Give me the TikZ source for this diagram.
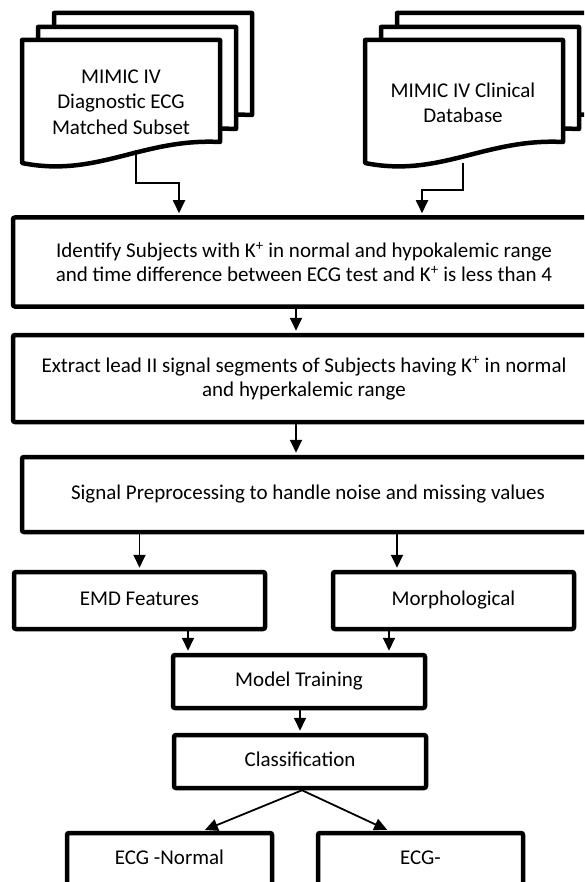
\documentclass[tikz,border=0pt]{standalone}
\usepackage{fontspec}
\setmainfont{Carlito}
\usetikzlibrary{arrows.meta}

\newcommand{\kp}{K\textsuperscript{+}}
% one document page, top left corner at (#1,#2)
\newcommand{\docpage}[2]{%
  \draw[docline] (#1,#2) -- ++(198,0) -- ++(0,102)
    .. controls (#1+120,#2+98) and (#1+75,#2+138) .. (#1,#2+123) -- cycle;}
% stack of three pages
\newcommand{\docstack}[2]{%
  \docpage{#1+32}{#2-27}
  \docpage{#1+16}{#2-13}
  \docpage{#1}{#2}}

\begin{document}
\begin{tikzpicture}[x=1pt,y=-1pt,
  font=\fontsize{21}{24}\selectfont,
  box/.style={draw,line width=4.5pt,rounded corners=2pt,fill=white,inner sep=0pt,align=center},
  oneline/.style={box,text height=15pt,text depth=5pt},
  doctext/.style={align=center,font=\fontsize{21}{25.5}\selectfont},
  docline/.style={line width=4.5pt,fill=white,line join=round},
  arr/.style={line width=1.8pt,shorten >=2pt,-{Triangle[length=13pt,width=12pt]}}]
\useasboundingbox (0,0) rectangle (584,882);
\clip (0,0) rectangle (584,882);

% Data sources
\docstack{22}{40}
\node[doctext] (ecgdb) at (121,102) {MIMIC IV\\Diagnostic ECG\\Matched Subset};
\docstack{365}{40}
\node[doctext] (clindb) at (463,103) {MIMIC IV Clinical\\Database};
\coordinate (ecgout) at (136,150);
\coordinate (clinout) at (463,163);

% Selection and preprocessing
\node[box,minimum width=582pt,minimum height=89pt] (ident) at (304,262)
  {Identify Subjects with \kp{} in normal and hypokalemic range\\and time difference between ECG test and \kp{} is less than 4};
\node[box,minimum width=582pt,minimum height=87pt] (extract) at (304,378.5)
  {Extract lead II signal segments of Subjects having \kp{} in normal\\and hyperkalemic range};
\node[oneline,minimum width=572pt,minimum height=75pt] (prep) at (308,494.5)
  {Signal Preprocessing to handle noise and missing values};

% Features
\node[oneline,minimum width=251pt,minimum height=57pt] (emd) at (139.5,600.5) {EMD Features};
\node[oneline,minimum width=241pt,minimum height=57pt] (morph) at (453.5,600.5) {Morphological};

% Model and output
\node[oneline,minimum width=252pt,minimum height=53pt] (train) at (299,681.5) {Model Training};
\node[oneline,minimum width=252pt,minimum height=53pt] (class) at (300,761.5) {Classification};
\node[oneline,minimum width=205pt,minimum height=53pt] (normal) at (169.5,859.5) {ECG -Normal};
\node[oneline,minimum width=205pt,minimum height=53pt] (hyper) at (420.5,859.5) {ECG-};

% Connectors
\coordinate (ecgbend) at (179,183);
\coordinate (clinbend) at (422,190);
\draw[arr] (ecgout) |- (ecgbend) -- (ecgbend |- ident.north);
\draw[arr] (clinout) |- (clinbend) -- (clinbend |- ident.north);
\draw[arr] ([xshift=-8pt]ident.south) -- ([xshift=-8pt]extract.north);
\coordinate (extout) at ([xshift=-8pt]extract.south);
\draw[arr] (extout) -- (extout |- prep.north);
\draw[arr] (emd.north |- prep.south) -- (emd.north);
\coordinate (morphin) at ([xshift=-56.5pt]morph.north);
\draw[arr] (morphin |- prep.south) -- (morphin);
\coordinate (emdout) at ([xshift=48.5pt]emd.south);
\draw[arr] (emdout) -- (emdout |- train.north);
\coordinate (morphout) at ([xshift=-64.5pt]morph.south);
\draw[arr] (morphout) -- (morphout |- train.north);
\draw[arr] (class.north |- train.south) -- (class.north);
\draw[arr] ([xshift=2pt]class.south) -- ([xshift=33.5pt]normal.north);
\draw[arr] ([xshift=2pt]class.south) -- ([xshift=-31.5pt]hyper.north);
\end{tikzpicture}
\end{document}
